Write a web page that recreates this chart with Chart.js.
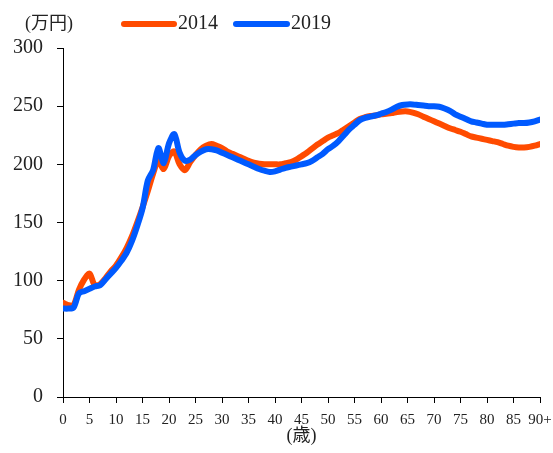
<!DOCTYPE html>
<html>
<head>
<meta charset="utf-8">
<script src="https://cdn.jsdelivr.net/npm/chart.js@4"></script>
<style>
  html, body { margin: 0; padding: 0; background: #fff; }
  #wrap { width: 553px; height: 453px; }
</style>
</head>
<body>
<div id="wrap"><canvas id="chart"></canvas></div>
<script>
// ages 0..90 (90 = 90+)
const ages = [];
for (let a = 0; a <= 90; a++) ages.push(a);

const series2014 = [
  81, 79, 79, 92, 101, 106, 96, 97, 102, 108,
  113, 120, 128, 138, 150, 163, 177, 192, 203, 196,
  207, 211, 200, 195, 202, 208, 213, 216, 217.5, 216,
  214, 211, 209, 207, 205, 203, 201.5, 200.5, 200, 200,
  200, 200, 201, 202, 204, 207, 210, 213.5, 217, 220,
  223, 225, 227, 230, 233, 236, 239, 240.5, 241.5, 242,
  243, 243.5, 244, 245, 245.5, 245.5, 244.5, 243, 241, 239,
  237, 235, 233, 231, 229.5, 228, 226, 224, 223, 222,
  221, 220, 219, 217.5, 216, 215, 214.5, 214.5, 215, 216,
  217.5
];
const series2019 = [
  76, 76, 77, 89, 91, 93, 95, 96, 101, 106,
  111, 117, 124, 134, 147, 162, 186, 195, 214, 201,
  218, 226, 210, 203, 204, 208, 211, 213, 213, 212,
  210, 208, 206, 204, 202, 200, 198, 196, 194.5, 193.5,
  194, 195.5, 197, 198, 199, 200, 201, 203, 206, 209,
  213, 216, 220, 225, 230, 234, 238, 240, 241, 242,
  243.5, 245, 247, 249.5, 251, 251.5, 251.5, 251, 250.5, 250,
  250, 249.5, 248, 246, 243, 241, 239, 237, 236, 235,
  234, 234, 234, 234, 234.5, 235, 235.5, 235.5, 236, 237,
  238.5
];

const seriesNames = ['2014', '2019'];
const seriesColors = ['#ff4b00', '#005aff'];

const serif = "'Liberation Serif', 'Noto Sans CJK JP', serif";
const textColor = '#222';

// legend + unit label drawn on the canvas
const extraText = {
  id: 'extraText',
  afterDraw(chart) {
    const ctx = chart.ctx;
    ctx.save();
    ctx.fillStyle = textColor;
    ctx.textBaseline = 'middle';
    ctx.font = "18px " + serif;
    ctx.textAlign = 'left';
    ctx.fillText('(万円)', 25, 24);

    const items = [
      { x1: 124, x2: 174, tx: 178 },
      { x1: 236, x2: 287, tx: 291 }
    ];
    items.forEach((it, i) => {
      ctx.strokeStyle = seriesColors[i];
      ctx.lineWidth = 6;
      ctx.lineCap = 'round';
      ctx.beginPath();
      ctx.moveTo(it.x1, 24);
      ctx.lineTo(it.x2, 24);
      ctx.stroke();
      ctx.font = "20px " + serif;
      ctx.fillText(seriesNames[i], it.tx, 24);
    });
    ctx.restore();
  }
};

new Chart(document.getElementById('chart'), {
  type: 'line',
  data: {
    labels: ages,
    datasets: [
      {
        label: seriesNames[0],
        data: series2014,
        borderColor: seriesColors[0],
        backgroundColor: seriesColors[0],
        borderWidth: 6,
        pointRadius: 0,
        tension: 0.3,
        borderCapStyle: 'round',
        borderJoinStyle: 'round',
        order: 2
      },
      {
        label: seriesNames[1],
        data: series2019,
        borderColor: seriesColors[1],
        backgroundColor: seriesColors[1],
        borderWidth: 6,
        pointRadius: 0,
        tension: 0.3,
        borderCapStyle: 'round',
        borderJoinStyle: 'round',
        order: 1
      }
    ]
  },
  options: {
    responsive: true,
    maintainAspectRatio: false,
    animation: false,
    layout: { padding: { top: 48, right: 13, left: 0, bottom: 0 } },
    plugins: {
      legend: { display: false },
      tooltip: { enabled: false }
    },
    scales: {
      x: {
        type: 'linear',
        min: 0,
        max: 90,
        afterFit: s => { s.height = 56; s.paddingLeft = 0; s.paddingRight = 0; },
        ticks: {
          stepSize: 5,
          autoSkip: false,
          maxRotation: 0,
          padding: 8,
          color: textColor,
          font: { family: serif, size: 15 },
          callback: v => v === 90 ? '90+' : v
        },
        grid: { drawOnChartArea: false, drawTicks: true, tickLength: 6, tickColor: '#000' },
        border: { color: '#000', width: 1 },
        title: {
          display: true,
          text: '(歳)',
          color: textColor,
          font: { family: serif, size: 18 },
          padding: { top: 0, bottom: 6 }
        }
      },
      y: {
        min: 0,
        max: 300,
        afterFit: s => { s.width = 63; },
        ticks: {
          stepSize: 50,
          padding: 14,
          color: textColor,
          font: { family: serif, size: 20 }
        },
        grid: { drawOnChartArea: false, drawTicks: true, tickLength: 6, tickColor: '#000' },
        border: { color: '#000', width: 1 }
      }
    }
  },
  plugins: [extraText]
});
</script>
</body>
</html>
